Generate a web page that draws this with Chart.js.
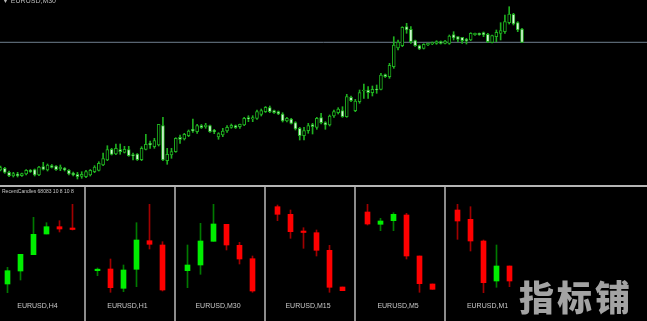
<!DOCTYPE html>
<html><head><meta charset="utf-8">
<script src="https://cdn.jsdelivr.net/npm/chart.js@4.4.0/dist/chart.umd.min.js"></script>
<style>
html,body{margin:0;padding:0;background:#000;width:647px;height:321px;overflow:hidden;}
#wrap{position:relative;width:647px;height:321px;background:#000;overflow:hidden;}
canvas{position:absolute;display:block;}
.t{position:absolute;white-space:nowrap;font-family:"Liberation Sans",Arial,sans-serif;color:#c8c8c8;}
.lbl{width:100px;text-align:center;top:302px;font-size:7px;line-height:7px;}
.vs{position:absolute;top:187px;width:2px;height:134px;background:#8c8c8c;}
</style></head><body>
<div id="wrap">
<canvas id="main" width="647" height="185" style="left:0;top:0;width:647px;height:185px"></canvas>
<div style="position:absolute;left:0;top:185px;width:647px;height:2px;background:#b4b4b4"></div>
<div class="vs" style="left:84px"></div>
<div class="vs" style="left:174px"></div>
<div class="vs" style="left:264px"></div>
<div class="vs" style="left:354px"></div>
<div class="vs" style="left:444px"></div>
<canvas id="m0" width="78" height="134" style="left:1px;top:187px;width:78px;height:134px"></canvas>
<canvas id="m1" width="78" height="134" style="left:91px;top:187px;width:78px;height:134px"></canvas>
<canvas id="m2" width="78" height="134" style="left:181px;top:187px;width:78px;height:134px"></canvas>
<canvas id="m3" width="78" height="134" style="left:271px;top:187px;width:78px;height:134px"></canvas>
<canvas id="m4" width="78" height="134" style="left:361px;top:187px;width:78px;height:134px"></canvas>
<canvas id="m5" width="78" height="134" style="left:451px;top:187px;width:78px;height:134px"></canvas>
<div class="t" style="left:2px;top:-3px;font-size:7px;line-height:8px;color:#b8b8b8">▼ EURUSD,M30</div>
<div class="t" style="left:2px;top:188px;font-size:5px;line-height:6px;color:#c8c8c8">RecentCandles 68083 10 8 10 8</div>
<div id="labels"></div>
<div class="t" style="left:519px;top:278px;font-family:'Noto Sans CJK SC',sans-serif;font-weight:900;font-size:35px;line-height:35px;letter-spacing:3px;color:#a3a3a3">指标铺</div>
</div>
<script>
// ---- main chart (EURUSD, M30) ----
const mainOpen = [20,21.7,17.7,14,16,14.3,16,19.7,20.3,15,
23.3,20,24.3,24,21,21.7,19.7,17,15.7,13.7,
13.3,15,18.3,19.7,25,30,40.7,36,40.3,37.7,
40.3,35.5,36,30.3,40.7,46.7,43.3,45,64.3,29.3,
35,38.3,52.7,51,54.3,60.7,58.3,64.3,63.3,64.3,
59.7,53,55,59,62.7,64.3,63.3,65,72.3,71,
71.7,75.5,78.3,82.3,79.3,78.3,76,69,71,67.3,
61.7,54.3,59.3,65.3,62.7,72.3,67.3,65,74,77.3,
79.3,73.3,92.7,79.3,88.3,99,100,97.3,100.7,100.7,
115.3,113.3,123.3,142,144.3,163.3,160.7,149.3,144.3,141.7,
145,146,146.7,148.3,146.7,146.7,155.3,153.3,152.7,150.7,
150,155.3,156.7,157.3,155.7,147.7,153.3,156.7,158.3,167.3,
175.7,167.3,161];
const mainHigh = [24,22.7,19,17.7,17.7,17,20.5,20.5,21,23.7,
27.7,26,25.5,24.5,25,22.5,20.3,18,17.7,18.3,
19.7,20.5,24.3,28.3,37,44.3,41.7,46,46,43.7,
43.7,37,36.5,43.3,55.7,49,51.7,65.7,72.7,41.7,
41.7,52.3,55,56.7,60,71,65.7,65.5,66.7,65,
60.7,57.3,61.7,64.3,66,65,66,72.7,74.3,74.3,
80,81,83.5,84,80,79,77.3,72.7,71.7,68.3,
62.7,62.7,66.7,66.7,72.7,76.7,68.3,75,80,82.3,
83.3,95.7,94,90.7,100,106,103.3,104,105,116.7,
116,126.7,153.3,150,163.3,166.7,163.3,150,145,146.3,
147,148,149.3,149,149.7,155,158.3,153.3,152.7,151.7,
157.3,157,157,158,156.7,155,160,167.3,175,183.3,
176.7,168.3,161.7];
const mainLow = [19,16.7,13.3,13,13,13.5,15,17.5,14,14.3,
20,19,22,19.7,19.3,19,15,14,11,11.7,
12.3,14,17.3,19,24.3,29.3,35,35.3,35.7,37,
33.7,30,29.5,29.3,40,41.7,41.7,44,29.3,25.7,
31.7,37.7,46.7,50,53.3,57.7,56.7,61.5,61.7,57.5,
56.3,50.7,53.3,57.7,61.7,61.5,61.7,64.3,68.3,68.3,
70.7,74,77.5,77.3,76.5,75.3,68,68,66,60,
50,50,56.7,56,60.7,66,60.7,64,72.7,76,
72.7,72.7,88.3,78.3,86.7,91.7,91.7,94,96.7,100,
112.5,111.7,121.7,140,143.3,156.7,146.7,143.5,140.3,141,
144.3,145.3,145.7,146,146,145.7,150,148.3,146.7,146,
149.3,154.7,154.7,153.3,147.3,147,148.3,150,156.7,166,
165,158.3,147.3];
const mainClose = [22.3,17.7,14.3,16.3,14.3,16.3,19.7,18.3,15,23,
20.7,25,22.7,20.3,23,20,16,15,13.3,15.7,
18.3,19.7,23,26.7,31.3,40.3,35.7,41.7,38.3,40.7,
34.3,34,30.3,41.7,45.7,45,49.3,65.7,30,35.7,
38.3,51.7,50.7,55.7,59,59,64.3,62.3,65,58.3,
58.3,56.3,59,62.7,64.7,62.3,65.7,71.7,71,72.3,
78.3,79.3,82.7,78.3,77.3,76,69,71.7,66.7,61,
54.3,59.3,64.3,63.3,71.7,67.3,65,74,78.3,81,
73.3,93.3,89.3,89,97.3,100,97.3,100.7,100,115,
113.3,124.7,145,148,162.7,160,148.3,144.3,141,145.7,
146.7,147.3,148.3,146.7,149,154,152,150.7,149.3,149,
156.7,156.7,155.3,155,148.3,154.3,157.7,159.3,168.3,176,
166,160,147.7];

// ---- recent candles panels ----
const panelNames = ["EURUSD,H4","EURUSD,H1","EURUSD,M30","EURUSD,M15","EURUSD,M5","EURUSD,M1"];
const h4Open=[16,29,45.3,66,73.3,71], h4High=[32.7,45.7,82.7,77.3,79.3,95.7], h4Low=[7.3,20,45.3,66,68,70], h4Close=[29.3,45.7,65.7,73.3,71,70.5];
const h1Open=[29.3,31,11.7,30.7,59.3,55], h1High=[32,41,35,77.3,95.7,58.3], h1Low=[24.3,7.7,8.3,13.3,51,9], h1Close=[30.7,12.3,30,60,55.7,10];
const m30Open=[29.3,35,58.7,75.7,54.7,41.3], m30High=[55,76.7,95.7,75.7,57.7,44], m30Low=[12.3,25.7,58.7,50,36,7.7], m30Close=[35,59,76,55,41,9];
const m15Open=[93.3,85.7,68,67.3,49.7,13], m15High=[95,90,72.3,70,54.7,13], m15Low=[79.3,61.7,51.7,44,7.7,9.3], m15Close=[85.7,68.3,67.5,49.7,12.7,9.3];
const m5Open=[88,75.7,79.3,85,44,16], m5High=[95.7,81.7,87.3,86.7,44,16], m5Low=[75,69.3,69.3,41,7.7,10.7], m5Close=[76,79,85.7,44,16.3,10.7];
const m1Open=[90,80.7,59,19,34,null], m1High=[95.7,93.3,60,55,34,null], m1Low=[60.7,49,7.3,12.7,13.3,null], m1Close=[79,59,17.3,34,19,null];

const labelCenters=[37.5,127.5,218,308,398,487.5];
const lc=document.getElementById('labels');
panelNames.forEach((n,i)=>{const d=document.createElement('div');d.className='t lbl';d.style.left=(labelCenters[i]-50)+'px';d.textContent=n;lc.appendChild(d);});

const common = {responsive:false, animation:false, devicePixelRatio:1, layout:{padding:0},
  events:[], plugins:{legend:{display:false}, tooltip:{enabled:false}}};

const idx = mainOpen.map((_, i) => i);
const up = idx.map(i => mainClose[i] >= mainOpen[i]);
const candleGreen = '#1fb01f';
new Chart(document.getElementById('main'), {
  type:'bar',
  data:{datasets:[
    {label:'body', data: idx.map(i=>({x:i, y:[mainOpen[i], mainClose[i]]})),
     backgroundColor: idx.map(i=> up[i] ? '#000000' : '#d6f5d6'),
     borderColor: candleGreen, borderWidth:1, borderSkipped:false,
     barThickness:3, grouped:false, order:0, minBarLength:1},
    {label:'wick', data: idx.map(i=>({x:i, y:[mainLow[i], mainHigh[i]]})),
     backgroundColor: candleGreen, barThickness:1, grouped:false, order:1},
    {type:'line', label:'bid', data:[{x:-5, y:mainClose[mainClose.length-1]},{x:160, y:mainClose[mainClose.length-1]}],
     borderColor:'#6f7f8f', borderWidth:1, pointRadius:0, order:2}
  ]},
  options:Object.assign({}, common, {
    scales:{x:{type:'linear', display:false, offset:false, min:-0.117, max:151.24},
            y:{display:false, min:5, max:190}}})
});

function mini(id, o, h, l, c){
  const labels = o.map((_, i) => String(i+1));
  const isUp = o.map((v,i)=> c[i] >= o[i]);
  new Chart(document.getElementById(id), {
    type:'bar',
    data:{labels, datasets:[
      {data:o.map((v,i)=> v==null ? null : [o[i], c[i]]),
       backgroundColor:isUp.map(u=> u ? '#00ee00' : '#ff0000'),
       barThickness:5, grouped:false, order:0, minBarLength:1.5},
      {data:o.map((v,i)=> v==null ? null : [l[i], h[i]]),
       backgroundColor:isUp.map(u=> u ? '#007a00' : '#a00000'),
       barThickness:1, grouped:false, order:1}
    ]},
    options:Object.assign({}, common, {
      scales:{x:{display:false}, y:{display:false, min:-21, max:113}}})
  });
}
mini('m0', h4Open, h4High, h4Low, h4Close);
mini('m1', h1Open, h1High, h1Low, h1Close);
mini('m2', m30Open, m30High, m30Low, m30Close);
mini('m3', m15Open, m15High, m15Low, m15Close);
mini('m4', m5Open, m5High, m5Low, m5Close);
mini('m5', m1Open, m1High, m1Low, m1Close);
</script>
</body></html>
